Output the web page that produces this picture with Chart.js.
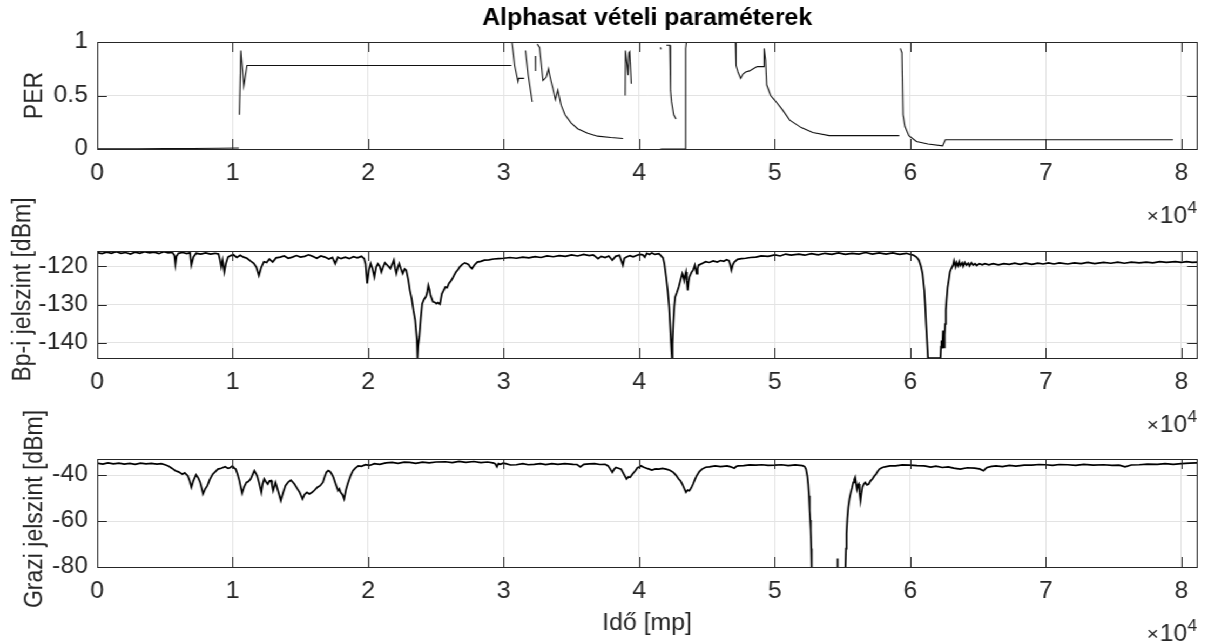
<!DOCTYPE html>
<html><head><meta charset="utf-8">
<script src="https://cdn.jsdelivr.net/npm/chart.js@4/dist/chart.umd.min.js"></script>
<style>
html,body{margin:0;padding:0;background:#fff;overflow:hidden;}
#wrap{position:relative;width:1117px;height:641px;overflow:hidden;background:#fff;transform:scaleX(1.08);transform-origin:0 0;}
canvas{position:absolute;left:0;}
</style></head><body>
<div id="wrap">
<canvas id="c1" width="1117" height="236" style="top:0px;width:1117px;height:236px"></canvas>
<canvas id="c2" width="1117" height="246" style="top:190px;width:1117px;height:246px"></canvas>
<canvas id="c3" width="1117" height="246" style="top:395px;width:1117px;height:246px"></canvas>
</div>
<script>
// ---- DATA ----
const chartTitle = 'Alphasat vételi paraméterek';
const xAxisTitle = 'Idő [mp]';
const yTitles = ['PER', 'Bp-i jelszint [dBm]', 'Grazi jelszint [dBm]'];
const xRange = [0, 81150];
const xTickValues = [0, 10000, 20000, 30000, 40000, 50000, 60000, 70000, 80000];
const xTickLabels = ['0', '1', '2', '3', '4', '5', '6', '7', '8'];
const perTicks = [0, 0.5, 1];
const perTickLabels = ['0', '0.5', '1'];
const bpTicks = [-140, -130, -120];
const bpTickLabels = ['-140', '-130', '-120'];
const grazTicks = [-80, -60, -40];
const grazTickLabels = ['-80', '-60', '-40'];
const perRange = [0, 1];
const bpRange = [-144, -116];
const grazRange = [-80, -33];

// PER [time, value]; null = gap
const perSeries = [[0,0.003],[3000,0.003],[5000,0.004],[7000,0.005],[9000,0.007],[10450,0.01],[10470,null],
[10490,0.32],[10600,0.92],[10820,0.59],[11050,0.78],[30560,0.78],[30580,null],
[30600,1.0],[30700,0.9],[30800,0.78],[31050,0.63],[31100,0.66],[31500,0.66],[31550,null],
[31600,0.92],[31800,0.69],[32100,0.44],[32200,null],
[32330,0.87],[32340,0.73],[32400,null],
[32470,0.98],[32640,0.95],[32890,0.64],[33130,0.67],[33300,0.75],[33370,0.70],[33500,0.63],[33620,0.57],[33810,0.46],[33990,0.55],[34230,0.41],[34520,0.32],[34960,0.245],[35450,0.19],[36190,0.147],[36920,0.12],[37900,0.107],[38800,0.098],[38900,null],
[38960,0.5],[38980,0.92],[39090,0.8],[39170,0.69],[39230,0.9],[39290,0.91],[39410,0.61],[39500,null],
[41560,0.95],[41600,0.93],[41700,null],
[42000,0.97],[42250,0.97],[42300,0.55],[42380,0.44],[42540,0.32],[42710,0.28],[42750,null],
[41560,0],[43380,0],[43420,0.94],[43480,1.0],[47100,1.0],[47140,0.78],[47280,0.72],[47480,0.66],[47650,0.70],[47850,0.72],[48130,0.73],[48410,0.75],[48700,0.77],[49180,0.77],[49210,0.94],[49320,0.83],[49400,0.6],[49690,0.5],[49970,0.46],[50540,0.37],[51100,0.27],[51950,0.2],[52800,0.155],[54020,0.125],[59180,0.125],[59220,null],
[59260,0.94],[59380,0.9],[59460,0.32],[59600,0.21],[59890,0.125],[60450,0.07],[61300,0.046],[62380,0.03],[62580,0.087],[79380,0.087]];

// Budapest signal level [time, dBm]
const bpSeries = [[0,-116.4],[350,-116.7],[700,-116.3],[1050,-116.6],[1400,-116.2],[1750,-116.6],[2100,-116.4],[2450,-116.8],[2800,-116.3],[3150,-116.6],[3500,-116.2],[3850,-116.5],[4200,-116.3],[4550,-116.7],[4900,-116.2],[5250,-116.5],[5550,-116.4],[5700,-117.2],[5770,-119.5],[5850,-117.4],[6000,-116.6],[6300,-116.4],[6600,-116.7],[6850,-116.5],[6950,-119.7],[7100,-117.6],[7300,-116.6],[7650,-116.8],[8000,-116.5],[8350,-116.8],[8700,-116.6],[8950,-116.8],[9050,-118.2],[9150,-120.1],[9250,-118.4],[9380,-121.5],[9500,-119.2],[9650,-117.6],[9850,-117.2],[10050,-117.0],[10300,-117.7],[10550,-117.1],[10800,-117.6],[11050,-117.9],[11300,-118.6],[11550,-119.2],[11750,-120.3],[11930,-122.4],[12100,-120.3],[12300,-118.8],[12500,-119.0],[12700,-118.1],[12950,-118.9],[13200,-117.8],[13500,-117.6],[13800,-117.3],[14100,-117.9],[14400,-117.6],[14700,-117.2],[15000,-117.6],[15300,-117.4],[15600,-117.0],[15900,-117.4],[16200,-117.9],[16500,-117.3],[16800,-117.6],[17100,-118.1],[17350,-117.7],[17560,-119.3],[17750,-117.6],[18000,-118.0],[18300,-117.6],[18600,-118.0],[18900,-117.5],[19200,-117.8],[19500,-117.4],[19700,-118.0],[19800,-119.4],[19920,-124.5],[20050,-121.0],[20180,-119.3],[20300,-120.5],[20450,-122.8],[20580,-120.2],[20710,-119.3],[20850,-120.0],[20970,-121.5],[21100,-120.2],[21230,-119.1],[21430,-119.8],[21630,-120.6],[21760,-119.5],[21890,-118.4],[21980,-120.5],[22070,-121.9],[22180,-120.3],[22280,-119.3],[22400,-120.6],[22540,-121.9],[22680,-120.7],[22800,-121.0],[22950,-123.5],[23070,-126.3],[23200,-128.4],[23330,-131.5],[23460,-134.1],[23550,-137.8],[23590,-139.4],[23620,-141.6],[23640,-144],[23680,-140.8],[23770,-138.5],[23880,-133.5],[23980,-129.8],[24120,-128.6],[24250,-128.0],[24350,-126.8],[24430,-125.0],[24520,-126.1],[24590,-127.6],[24680,-128.4],[24770,-129.3],[24900,-129.4],[25030,-129.8],[25150,-129.5],[25290,-129.9],[25360,-128.5],[25430,-127.2],[25560,-126.3],[25690,-125.4],[25820,-125.6],[25950,-124.5],[26080,-123.9],[26210,-123.2],[26340,-122.3],[26470,-121.5],[26600,-121.0],[26740,-120.2],[26940,-119.5],[27130,-119.1],[27390,-119.5],[27520,-120.2],[27650,-120.6],[27850,-119.6],[28050,-118.9],[28300,-118.7],[28570,-118.4],[28900,-118.3],[29250,-118.1],[29620,-118.0],[30000,-117.9],[30450,-117.7],[30930,-117.9],[31400,-117.6],[31850,-117.8],[32300,-117.5],[32750,-117.7],[33200,-117.3],[33650,-117.5],[34100,-117.2],[34550,-117.4],[35000,-117.0],[35450,-117.3],[35900,-116.9],[36300,-117.2],[36600,-117.0],[36960,-118.0],[37200,-117.4],[37480,-117.7],[37750,-117.3],[38010,-118.4],[38250,-117.4],[38530,-117.1],[38790,-119.7],[38900,-117.9],[39060,-117.6],[39300,-117.2],[39550,-117.5],[39840,-117.1],[40050,-116.9],[40250,-117.0],[40400,-117.6],[40550,-116.6],[40750,-116.9],[40930,-116.5],[41150,-116.9],[41450,-116.7],[41590,-117.2],[41750,-117.8],[41850,-119.3],[41980,-122.8],[42100,-126.5],[42200,-130.7],[42330,-139.4],[42380,-142.5],[42410,-144],[42450,-140.2],[42510,-135.0],[42580,-130.5],[42650,-128.0],[42780,-126.8],[42910,-125.4],[43050,-123.5],[43170,-121.9],[43240,-122.6],[43310,-123.7],[43380,-122.3],[43440,-121.5],[43500,-123.8],[43570,-126.3],[43640,-124.0],[43700,-122.8],[43850,-121.6],[43970,-121.0],[44100,-119.7],[44230,-121.9],[44300,-120.6],[44370,-119.7],[44500,-119.5],[44630,-119.3],[44900,-118.8],[45160,-119.0],[45450,-118.6],[45750,-118.9],[46000,-118.5],[46220,-118.7],[46450,-118.3],[46610,-118.5],[46700,-119.4],[46800,-121.0],[46900,-119.6],[47010,-118.9],[47250,-118.2],[47540,-118.0],[47850,-117.9],[48200,-117.7],[48600,-117.6],[49000,-117.3],[49500,-117.4],[50000,-117.0],[50400,-117.3],[50800,-116.8],[51200,-117.1],[51770,-116.8],[52200,-117.1],[52700,-116.7],[53200,-117.0],[53700,-116.6],[54200,-116.9],[54700,-116.5],[55200,-116.9],[55700,-116.6],[56200,-116.8],[56700,-116.4],[57200,-116.8],[57700,-116.5],[58200,-116.8],[58700,-116.5],[59200,-116.9],[59710,-116.6],[60000,-116.9],[60240,-117.1],[60450,-117.6],[60630,-118.4],[60780,-120.0],[60900,-121.9],[61030,-126.3],[61100,-130.5],[61160,-135.0],[61230,-139.5],[61300,-144],[62220,-144],[62260,-141.0],[62300,-139.4],[62360,-141.5],[62410,-136.8],[62450,-139.5],[62490,-141.2],[62530,-138.0],[62570,-135.1],[62620,-131.5],[62670,-128.9],[62750,-125.5],[62830,-123.7],[62920,-121.5],[63020,-120.6],[63150,-119.7],[63220,-118.6],[63330,-120.1],[63400,-119.0],[63520,-119.9],[63610,-118.8],[63700,-119.8],[63830,-119.1],[63900,-120.0],[64020,-119.0],[64130,-119.7],[64270,-119.2],[64360,-119.9],[64500,-119.1],[64640,-119.7],[64780,-119.3],[64900,-119.8],[65100,-119.3],[65300,-119.6],[65500,-119.3],[65800,-119.6],[66100,-119.3],[66500,-119.6],[66900,-119.3],[67300,-119.5],[67700,-119.2],[68100,-119.5],[68500,-119.2],[68970,-119.5],[69400,-119.2],[69800,-119.4],[70200,-119.1],[70600,-119.4],[71000,-119.1],[71610,-119.4],[72100,-119.1],[72600,-119.3],[73100,-119.0],[73600,-119.3],[74260,-119.0],[74800,-119.2],[75300,-118.9],[75800,-119.2],[76300,-118.9],[76900,-119.1],[77400,-118.9],[77900,-119.1],[78400,-118.8],[78900,-119.0],[79550,-118.8],[80000,-119.0],[80400,-118.8],[80800,-119.0],[81150,-118.9]];

// Graz signal level [time, dBm]; null = gap
const grazSeries = [[0,-34.8],[400,-35.2],[800,-34.7],[1200,-35.1],[1600,-34.8],[2000,-35.2],[2400,-34.9],[2800,-35.3],[3200,-34.8],[3600,-35.1],[4000,-34.9],[4400,-35.2],[4720,-35.0],[5000,-35.5],[5240,-36.0],[5500,-37.0],[5770,-38.1],[6000,-38.6],[6290,-39.6],[6450,-39.0],[6680,-40.3],[6820,-42.5],[6950,-45.3],[7100,-42.4],[7290,-39.9],[7450,-41.2],[7600,-43.2],[7700,-45.5],[7810,-48.2],[7950,-46.2],[8130,-44.6],[8300,-42.0],[8520,-39.6],[8700,-38.6],[8910,-37.4],[9150,-37.0],[9440,-36.4],[9650,-37.1],[9830,-36.7],[9990,-36.0],[10100,-36.9],[10220,-37.4],[10350,-39.5],[10490,-42.4],[10600,-45.5],[10690,-47.9],[10850,-45.0],[11010,-43.2],[11150,-42.8],[11320,-41.7],[11450,-40.0],[11590,-38.1],[11700,-39.2],[11800,-40.3],[11950,-43.5],[12110,-47.5],[12200,-44.0],[12320,-41.7],[12450,-42.9],[12580,-43.9],[12700,-42.6],[12840,-42.4],[12900,-44.5],[12980,-46.8],[13070,-45.0],[13160,-43.2],[13350,-47.0],[13550,-51.1],[13700,-48.0],[13890,-44.6],[14100,-43.0],[14290,-42.2],[14420,-43.0],[14550,-43.9],[14750,-45.8],[14940,-47.5],[15050,-49.0],[15150,-50.4],[15300,-48.4],[15470,-47.5],[15650,-48.2],[15860,-47.5],[16050,-46.5],[16250,-45.3],[16450,-44.6],[16650,-43.2],[16780,-40.8],[16910,-38.8],[17050,-38.0],[17170,-38.4],[17300,-39.5],[17430,-41.0],[17600,-44.0],[17770,-46.8],[17870,-46.0],[17960,-47.5],[18100,-48.5],[18220,-50.4],[18350,-46.5],[18480,-43.9],[18680,-40.5],[18870,-38.1],[19050,-37.0],[19270,-36.0],[19500,-36.2],[19790,-35.5],[20100,-35.8],[20450,-35.0],[20850,-35.3],[21300,-34.7],[21760,-34.5],[22200,-34.9],[22650,-34.4],[23070,-34.5],[23500,-34.9],[24000,-34.4],[24500,-34.7],[25000,-34.3],[25690,-34.2],[26200,-34.6],[26700,-34.0],[27200,-34.5],[27790,-34.1],[28300,-34.6],[28800,-34.3],[29200,-34.7],[29360,-35.0],[29490,-36.4],[29600,-35.0],[29750,-35.3],[29950,-34.8],[30140,-35.0],[30500,-35.6],[30930,-35.5],[31400,-35.0],[31800,-35.5],[32240,-35.3],[32700,-35.0],[33100,-35.4],[33550,-35.0],[34000,-35.3],[34500,-35.0],[35120,-35.3],[35400,-35.4],[35650,-36.4],[35910,-35.3],[36300,-35.1],[36700,-35.0],[37100,-35.4],[37480,-35.3],[37700,-36.0],[37850,-37.3],[38010,-38.8],[38140,-37.5],[38270,-36.7],[38460,-37.0],[38660,-37.4],[38850,-39.5],[39060,-41.7],[39190,-40.8],[39320,-41.0],[39500,-39.5],[39710,-38.1],[39870,-36.8],[40050,-36.4],[40130,-36.0],[40330,-36.6],[40530,-37.0],[40730,-37.4],[40930,-37.8],[41200,-37.3],[41450,-37.4],[41700,-37.1],[41980,-37.4],[42250,-37.9],[42510,-38.8],[42700,-40.0],[42910,-41.7],[43050,-42.6],[43170,-43.9],[43300,-45.6],[43440,-47.5],[43570,-46.5],[43700,-46.8],[43840,-45.5],[43970,-43.9],[44100,-42.0],[44230,-40.3],[44430,-38.5],[44630,-37.4],[44900,-36.6],[45160,-36.4],[45600,-36.0],[46000,-36.3],[46480,-36.0],[46750,-36.4],[47010,-37.0],[47150,-36.3],[47280,-36.0],[47700,-35.9],[48150,-35.6],[48600,-35.7],[49050,-35.5],[49500,-35.8],[50000,-35.7],[50500,-35.5],[51000,-35.9],[51500,-35.6],[52040,-35.9],[52200,-36.3],[52300,-37.4],[52400,-40.5],[52460,-43.9],[52520,-49.0],[52570,-55.4],[52610,-59.5],[52650,-64.0],[52690,-72.0],[52720,-80],[52740,null],
[54620,-80],[54630,-76.3],[54640,-80],[54660,null],
[55210,-80],[55250,-72.0],[55290,-65.5],[55350,-59.0],[55420,-54.0],[55510,-50.2],[55610,-47.5],[55700,-45.5],[55790,-43.2],[55860,-42.0],[55930,-41.0],[56000,-43.5],[56060,-46.0],[56120,-44.5],[56190,-43.9],[56250,-47.5],[56320,-51.1],[56390,-47.8],[56460,-45.3],[56560,-44.0],[56670,-43.2],[56800,-44.3],[56930,-43.9],[57060,-42.5],[57200,-41.7],[57330,-40.5],[57460,-39.6],[57600,-38.3],[57720,-37.4],[57900,-36.8],[58120,-36.4],[58500,-36.0],[58920,-36.0],[59400,-35.6],[59970,-35.7],[60500,-35.9],[61030,-36.0],[61500,-36.5],[61900,-36.1],[62350,-36.7],[62800,-36.4],[63200,-37.0],[63680,-37.4],[64200,-36.8],[64740,-37.0],[65100,-37.3],[65400,-38.1],[65550,-37.2],[65660,-36.7],[66000,-36.2],[66320,-36.0],[66800,-36.3],[67300,-35.8],[67800,-36.1],[68400,-35.7],[68970,-35.7],[69500,-35.4],[69970,-35.5],[70500,-35.8],[71000,-35.4],[71610,-35.5],[72200,-35.8],[72800,-35.3],[73500,-35.7],[74260,-35.5],[74900,-35.8],[75400,-35.7],[75850,-36.4],[76300,-35.6],[76900,-35.5],[77500,-35.2],[78230,-35.3],[78800,-35.0],[79400,-35.3],[80000,-35.0],[80600,-34.8],[81150,-34.7]];

// ---- RENDERING ----
const FONT = '"Liberation Sans", Arial, Helvetica, sans-serif';
const AX = '#262626';
const PLOT_LEFT = 90;      // internal px (figure is stretched 1.08x horizontally)
const PAD_RIGHT = 8.7;
Chart.defaults.font.family = FONT;
Chart.defaults.color = AX;

const matlabFrame = {
  id: 'matlabFrame',
  afterDatasetsDraw(chart, args, opts) {
    const {ctx, chartArea: a, scales} = chart;
    const tlx = 10, tly = 9;
    ctx.save();
    ctx.strokeStyle = AX; ctx.lineWidth = 1;
    ctx.beginPath();
    scales.x.ticks.forEach(t => {
      const p = Math.round(scales.x.getPixelForValue(t.value)) + 0.5;
      ctx.moveTo(p, a.bottom); ctx.lineTo(p, a.bottom - tlx);
      ctx.moveTo(p, a.top); ctx.lineTo(p, a.top + tlx);
    });
    scales.y.ticks.forEach(t => {
      const p = Math.round(scales.y.getPixelForValue(t.value)) + 0.5;
      ctx.moveTo(a.left, p); ctx.lineTo(a.left + tly, p);
      ctx.moveTo(a.right, p); ctx.lineTo(a.right - tly, p);
    });
    ctx.stroke();
    const L = Math.round(a.left) + 0.5, T = Math.round(a.top) + 0.5;
    ctx.strokeRect(L, T, Math.round(a.right) - Math.round(a.left), Math.round(a.bottom) - Math.round(a.top));
    ctx.fillStyle = AX;
    // y-axis label (rotated), placed like the MATLAB ylabel
    ctx.save();
    ctx.font = '23px ' + FONT;
    ctx.textAlign = 'center'; ctx.textBaseline = 'middle';
    ctx.translate(opts.yLabelX, (a.top + a.bottom) / 2 + opts.yLabelShift);
    ctx.rotate(-Math.PI / 2);
    ctx.fillText(opts.yLabel, 0, 0);
    ctx.restore();
    // x 10^4 exponent label
    ctx.textBaseline = 'alphabetic';
    ctx.textAlign = 'left';
    const base = a.bottom + 74;
    ctx.font = '16px ' + FONT; const w4 = ctx.measureText('4').width;
    ctx.font = '23px ' + FONT; const w10 = ctx.measureText('10').width;
    ctx.font = '19px ' + FONT; const wx = ctx.measureText('\u00d7').width;
    const x4 = a.right - w4, x10 = x4 - w10, xx = x10 - wx - 1;
    ctx.font = '19px ' + FONT; ctx.fillText('\u00d7', xx, base - 1);
    ctx.font = '23px ' + FONT; ctx.fillText('10', x10, base);
    ctx.font = '16px ' + FONT; ctx.fillText('4', x4, base - 10);
    ctx.restore();
  }
};

function toPoints(series) { return series.map(([x, y]) => ({x: x, y: y})); }

function makeChart(id, cfg) {
  const canvas = document.getElementById(id);
  const H = canvas.height;
  return new Chart(canvas, {
    type: 'line',
    data: { datasets: [{
      data: toPoints(cfg.series),
      borderColor: cfg.lineColor, borderWidth: cfg.lineWidth,
      pointRadius: 0, tension: 0, spanGaps: false, fill: false
    }]},
    options: {
      responsive: false, animation: false, devicePixelRatio: 1,
      layout: { padding: { left: 0, right: PAD_RIGHT, top: cfg.padTop, bottom: 0 } },
      plugins: {
        legend: { display: false }, tooltip: { enabled: false },
        title: cfg.title ? { display: true, text: cfg.title, fullSize: false, color: '#000',
          font: { size: 23, weight: 'bold', family: FONT }, padding: { top: 5, bottom: 9.4 } } : { display: false },
        matlabFrame: { yLabel: cfg.yTitle, yLabelX: cfg.yLabelX, yLabelShift: cfg.yLabelShift }
      },
      scales: {
        x: {
          type: 'linear', min: xRange[0], max: xRange[1],
          afterBuildTicks: s => { s.ticks = xTickValues.map(v => ({value: v})); },
          afterFit: s => { s.height = H - cfg.bottom; },
          ticks: { font: { size: 23 }, color: AX, padding: 11, maxRotation: 0, autoSkip: false,
            callback: (v, i) => xTickLabels[i] },
          grid: { color: '#e3e3e3', lineWidth: 1, drawTicks: false },
          border: { display: false },
          title: cfg.xTitle ? { display: true, text: cfg.xTitle, font: { size: 23 }, color: AX, padding: { top: 0, bottom: 4 } } : { display: false }
        },
        y: {
          type: 'linear', min: cfg.range[0], max: cfg.range[1],
          afterBuildTicks: s => { s.ticks = cfg.ticks.map(v => ({value: v})); },
          afterFit: s => { s.width = PLOT_LEFT; },
          ticks: { font: { size: 23 }, color: AX, padding: 8.5, autoSkip: false,
            callback: (v, i) => cfg.tickLabels[i] },
          grid: { color: '#e3e3e3', lineWidth: 1, drawTicks: false },
          border: { display: false },
          title: { display: false }
        }
      }
    },
    plugins: [matlabFrame]
  });
}

makeChart('c1', { series: perSeries, lineColor: '#111', lineWidth: 1.1, padTop: 0, bottom: 149,
  title: chartTitle, range: perRange, ticks: perTicks, tickLabels: perTickLabels,
  yTitle: yTitles[0], yLabelX: 32.4, yLabelShift: 0 });
makeChart('c2', { series: bpSeries, lineColor: '#000', lineWidth: 1.7, padTop: 61, bottom: 168,
  range: bpRange, ticks: bpTicks, tickLabels: bpTickLabels,
  yTitle: yTitles[1], yLabelX: 21.3, yLabelShift: -15 });
makeChart('c3', { series: grazSeries, lineColor: '#000', lineWidth: 1.7, padTop: 64, bottom: 172,
  range: grazRange, ticks: grazTicks, tickLabels: grazTickLabels,
  yTitle: yTitles[2], yLabelX: 32.4, yLabelShift: -4, xTitle: xAxisTitle });
</script>
</body></html>
